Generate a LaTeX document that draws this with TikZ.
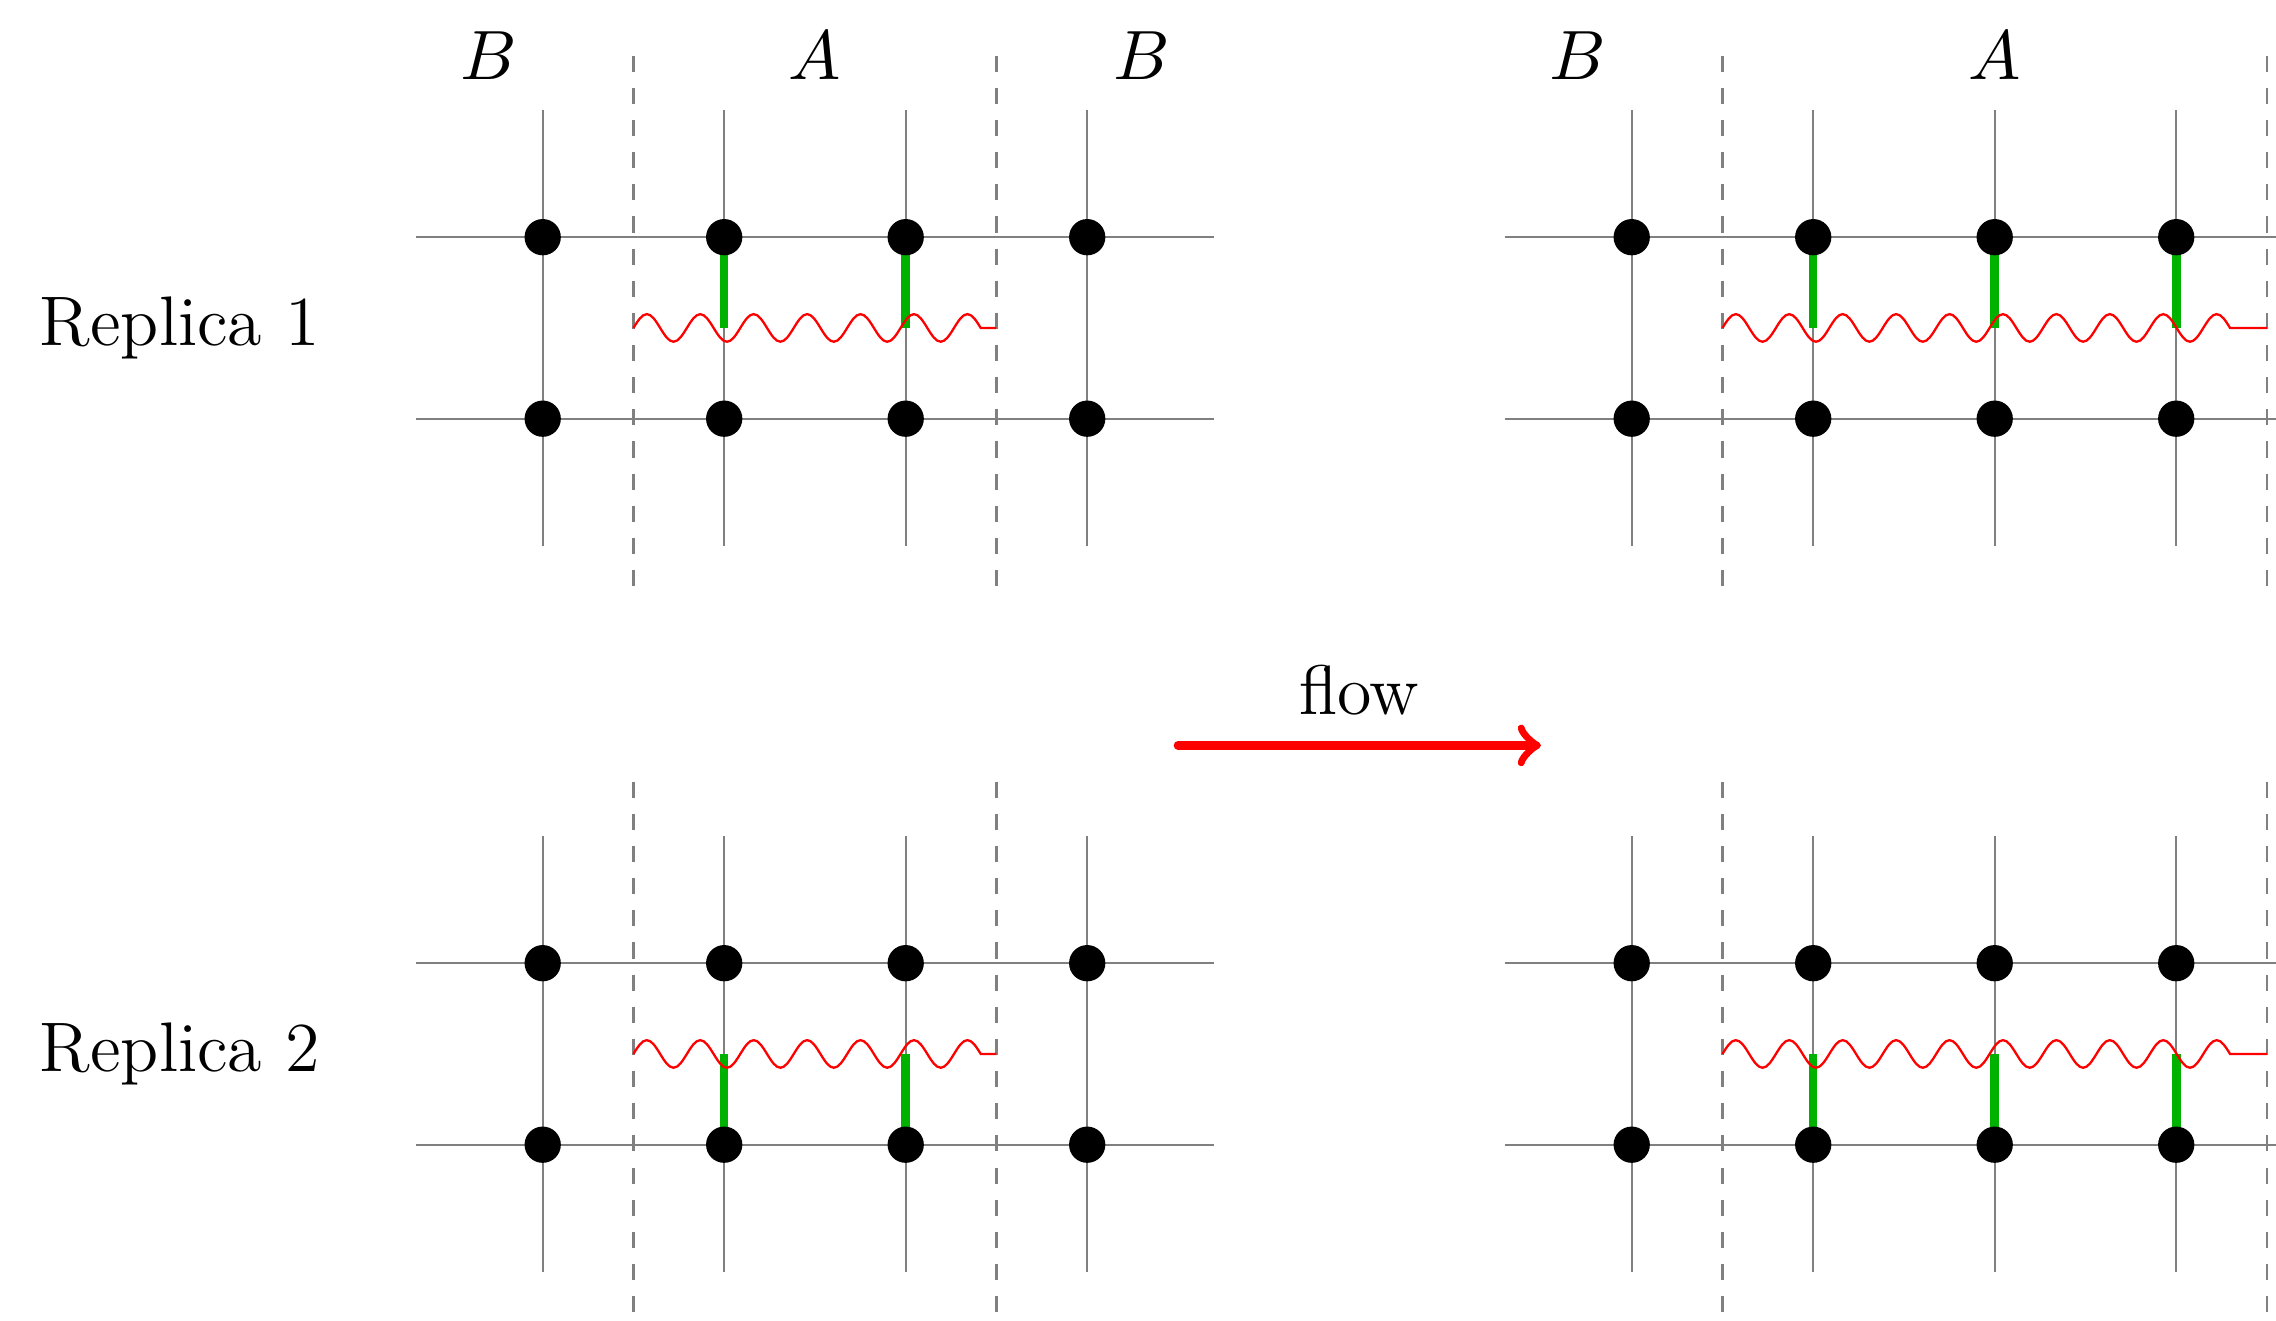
\documentclass[tikz,border=0pt]{standalone}
\definecolor{barg}{RGB}{0,178,0}
\tikzset{
  gridline/.style={draw=gray, line width=0.35pt},
  sepline/.style={draw=gray, line width=0.35pt, dash pattern=on 2.52pt off 2.52pt},
  site/.style={circle, fill=black, inner sep=0pt, minimum size=0.2cm},
  bond/.style={draw=barg, line width=1.34pt},
  wave/.style={draw=red, line width=0.36pt},
  lbl/.style={font=\fontsize{11}{13}\selectfont},
  flowarrow/.style={draw=red, line width=1.34pt, ->, line cap=round},
}
\def\wvq{0.0736}
\def\wva{0.076}
\begin{document}
\begin{tikzpicture}
\clip (0.01,0.034) rectangle (12.55,7.307);

% ---------- left panels ----------
\foreach \y in {6,5,2,1} \draw[gridline] (2.3,\y) -- (6.7,\y);
\foreach \x in {3,...,6} {
  \draw[gridline] (\x,6.7) -- (\x,4.3);
  \draw[gridline] (\x,2.7) -- (\x,0.3);
}
\foreach \x in {3.5,5.5} {
  \draw[sepline] (\x,7) -- (\x,4);
  \draw[sepline] (\x,3) -- (\x,0);
}
% ---------- right panels ----------
\foreach \y in {6,5,2,1} \draw[gridline] (8.3,\y) -- (13,\y);
\foreach \x in {9,...,12} {
  \draw[gridline] (\x,6.7) -- (\x,4.3);
  \draw[gridline] (\x,2.7) -- (\x,0.3);
}
\foreach \x in {9.5,12.5} {
  \draw[sepline] (\x,7) -- (\x,4);
  \draw[sepline] (\x,3) -- (\x,0);
}

% site coordinates
\foreach \x in {3,...,6,9,10,11,12} \foreach \y in {6,5,2,1}
  \coordinate (s-\x-\y) at (\x,\y);

% wave end points
\coordinate (w1a) at (3.5,5.5); \coordinate (w1b) at (5.5,5.5);
\coordinate (w2a) at (3.5,1.5); \coordinate (w2b) at (5.5,1.5);
\coordinate (w3a) at (9.5,5.5); \coordinate (w3b) at (12.5,5.5);
\coordinate (w4a) at (9.5,1.5); \coordinate (w4b) at (12.5,1.5);

% green bonds
\foreach \x in {4,5} {
  \coordinate (b1-\x) at (\x,5.5);
  \draw[bond] (s-\x-6) -- (b1-\x);
  \coordinate (b2-\x) at (\x,1.5);
  \draw[bond] (s-\x-1) -- (b2-\x);
}
\foreach \x in {10,11,12} {
  \coordinate (b3-\x) at (\x,5.5);
  \draw[bond] (s-\x-6) -- (b3-\x);
  \coordinate (b4-\x) at (\x,1.5);
  \draw[bond] (s-\x-1) -- (b4-\x);
}

% red waves (6.5 and 9.5 periods, then a straight end)
\draw[wave] (w1a) \foreach \i in {1,...,6} { sin ++(\wvq,\wva) cos ++(\wvq,-\wva) sin ++(\wvq,-\wva) cos ++(\wvq,\wva) }
  sin ++(\wvq,\wva) cos ++(\wvq,-\wva) -- (w1b);
\draw[wave] (w2a) \foreach \i in {1,...,6} { sin ++(\wvq,\wva) cos ++(\wvq,-\wva) sin ++(\wvq,-\wva) cos ++(\wvq,\wva) }
  sin ++(\wvq,\wva) cos ++(\wvq,-\wva) -- (w2b);
\draw[wave] (w3a) \foreach \i in {1,...,9} { sin ++(\wvq,\wva) cos ++(\wvq,-\wva) sin ++(\wvq,-\wva) cos ++(\wvq,\wva) }
  sin ++(\wvq,\wva) cos ++(\wvq,-\wva) -- (w3b);
\draw[wave] (w4a) \foreach \i in {1,...,9} { sin ++(\wvq,\wva) cos ++(\wvq,-\wva) sin ++(\wvq,-\wva) cos ++(\wvq,\wva) }
  sin ++(\wvq,\wva) cos ++(\wvq,-\wva) -- (w4b);

% sites
\foreach \x in {3,...,6,9,10,11,12} \foreach \y in {6,5,2,1}
  \node[site] (d-\x-\y) at (s-\x-\y) {};

% labels
\node[lbl] (lB1) at (2.7,7) {$B$};
\node[lbl] (lA1) at (4.5,7) {$A$};
\node[lbl] (lB2) at (6.3,7) {$B$};
\node[lbl] (lB3) at (8.7,7) {$B$};
\node[lbl] (lA2) at (11,7) {$A$};
\node[lbl] (r1) at (1,5.5) {Replica 1};
\node[lbl] (r2) at (1,1.5) {Replica 2};

% flow arrow
\coordinate (fs) at (6.5,3.2);
\coordinate (fe) at (8.5,3.2);
\draw[flowarrow] (fs) -- node[lbl, above=1.1pt, inner sep=3pt] (flowlbl) {flow} (fe);
\end{tikzpicture}
\end{document}
